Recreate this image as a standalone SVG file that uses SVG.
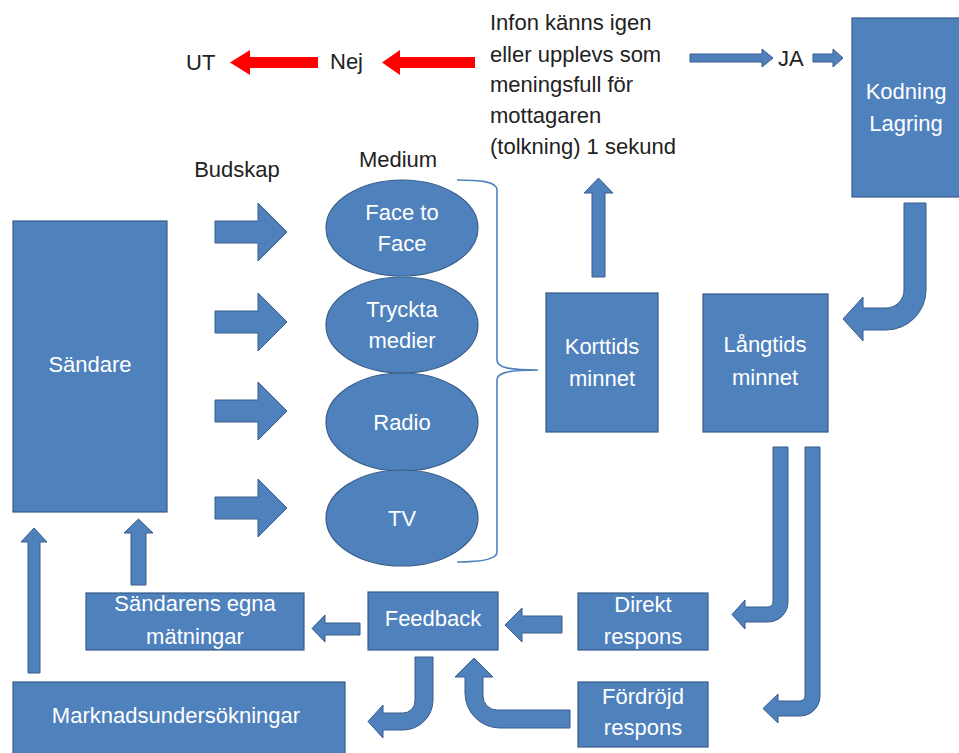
<svg xmlns="http://www.w3.org/2000/svg" width="959" height="753" viewBox="0 0 959 753">
  <style>
    .box { fill: #4F81BD; stroke: #385D8A; stroke-width: 1.2; }
    .arr { fill: #4F81BD; stroke: #385D8A; stroke-width: 1; }
    .red { fill: #FF0000; }
    .brace { fill: none; stroke: #4F81BD; stroke-width: 1.6; }
    text { font-family: "Liberation Sans", Arial, sans-serif; font-size: 22px; }
    .w { fill: #FFFFFF; text-anchor: middle; }
    .k { fill: #222222; }
    .kc { fill: #222222; text-anchor: middle; }
  </style>
  <rect width="959" height="753" fill="#FFFFFF"/>

  <!-- connectors -->
  <g id="connectors">
    <!-- red "no" arrows -->
    <path class="red" d="M475,57 V68 H400 V75 L382,62.5 L400,50 V57 Z"/>
    <path class="red" d="M318,57 V68 H250 V75 L230,62.5 L250,50 V57 Z"/>
    <!-- "yes" arrows -->
    <path class="arr" d="M690,54 H762 V49 L773,58 L762,67 V62 H690 Z"/>
    <path class="arr" d="M813,54 H833 V49 L843,58 L833,67 V62 H813 Z"/>
    <!-- message arrows into media -->
    <path class="arr" d="M215,221 H258 V203 L287,232 L258,261 V243 H215 Z"/>
    <path class="arr" d="M215,311 H258 V293 L287,322 L258,351 V333 H215 Z"/>
    <path class="arr" d="M215,400 H258 V382 L287,411 L258,440 V422 H215 Z"/>
    <path class="arr" d="M215,497 H258 V479 L287,508 L258,537 V519 H215 Z"/>
    <!-- brace grouping the media -->
    <path class="brace" d="M457,180 C478,180 497,181 497,190 V360 C497,367 507,370 538,370 C507,370 497,373 497,380 V552 C497,560 478,562 457,562"/>
    <!-- short-term memory up to interpretation -->
    <path class="arr" d="M592,277 V193 H584 L598.5,178 L613,193 H605 V277 Z"/>
    <!-- coding/storage down to long-term memory -->
    <path class="arr" d="M904,203 H926 V290 A40,40 0 0 1 886,330 H863 V341 L843,319 L863,297 V308 H886 A18,18 0 0 0 904,290 Z"/>
    <!-- long-term memory to direct response -->
    <path class="arr" d="M773,447 H788 V602 A20,20 0 0 1 768,622 H745 V629 L732,614.5 L745,600 V607 H768 A5,5 0 0 0 773,602 Z"/>
    <!-- long-term memory to delayed response -->
    <path class="arr" d="M805,447 H820 V696 A20,20 0 0 1 800,716 H778 V723 L763,708.5 L778,694 V701 H800 A5,5 0 0 0 805,696 Z"/>
    <!-- direct response to feedback -->
    <path class="arr" d="M562,616 V633 H522 V642 L505,625 L522,608 V616 Z"/>
    <!-- delayed response to feedback -->
    <path class="arr" d="M570,710 V728 H500 A35,35 0 0 1 465,693 V677 H455 L474,658 L493,677 H483 V696 A14,14 0 0 0 497,710 Z"/>
    <!-- feedback to own measurements -->
    <path class="arr" d="M360,623 V635 H325 V642 L312,628.5 L325,615 V623 Z"/>
    <!-- feedback to market research -->
    <path class="arr" d="M415,657 H433 V700 A30,30 0 0 1 403,730 H383 V738 L368,721.5 L383,705 V713 H403 A12,12 0 0 0 415,701 Z"/>
    <!-- back up to sender -->
    <path class="arr" d="M28,673 V542 H21 L34,528 L47,542 H40 V673 Z"/>
    <path class="arr" d="M131,585 V533 H124 L138.5,519 L153,533 H146 V585 Z"/>
  </g>

  <!-- labels -->
  <g id="label-ut"><text class="k" x="186" y="70">UT</text></g>
  <g id="label-nej"><text class="k" x="330" y="69">Nej</text></g>
  <g id="label-ja"><text class="k" x="778" y="66">JA</text></g>
  <g id="label-tolkning">
    <text class="k" x="490" y="30">Infon känns igen</text>
    <text class="k" x="490" y="62">eller upplevs som</text>
    <text class="k" x="490" y="92">meningsfull för</text>
    <text class="k" x="490" y="123">mottagaren</text>
    <text class="k" x="490" y="154">(tolkning) 1 sekund</text>
  </g>
  <g id="label-budskap"><text class="kc" x="237" y="177">Budskap</text></g>
  <g id="label-medium"><text class="kc" x="398" y="167">Medium</text></g>

  <!-- nodes -->
  <g id="kodning">
    <rect class="box" x="852" y="18" width="120" height="179"/>
    <text class="w" x="906" y="99">Kodning</text>
    <text class="w" x="906" y="131">Lagring</text>
  </g>
  <g id="sandare">
    <rect class="box" x="13" y="221" width="154" height="291"/>
    <text class="w" x="90" y="372">Sändare</text>
  </g>
  <g id="face-to-face">
    <ellipse class="box" cx="402" cy="228" rx="76" ry="48"/>
    <text class="w" x="402" y="220">Face to</text>
    <text class="w" x="402" y="251">Face</text>
  </g>
  <g id="tryckta-medier">
    <ellipse class="box" cx="402" cy="325" rx="76" ry="48"/>
    <text class="w" x="402" y="317">Tryckta</text>
    <text class="w" x="402" y="348">medier</text>
  </g>
  <g id="radio">
    <ellipse class="box" cx="402" cy="422" rx="76" ry="49"/>
    <text class="w" x="402" y="430">Radio</text>
  </g>
  <g id="tv">
    <ellipse class="box" cx="402" cy="518" rx="76" ry="48"/>
    <text class="w" x="402" y="526">TV</text>
  </g>
  <g id="korttidsminnet">
    <rect class="box" x="546" y="293" width="112" height="139"/>
    <text class="w" x="602" y="354">Korttids</text>
    <text class="w" x="602" y="386">minnet</text>
  </g>
  <g id="langtidsminnet">
    <rect class="box" x="703" y="294" width="125" height="138"/>
    <text class="w" x="765" y="352">Långtids</text>
    <text class="w" x="765" y="385">minnet</text>
  </g>
  <g id="direkt-respons">
    <rect class="box" x="578" y="593" width="130" height="57"/>
    <text class="w" x="643" y="612">Direkt</text>
    <text class="w" x="643" y="644">respons</text>
  </g>
  <g id="fordrojd-respons">
    <rect class="box" x="578" y="682" width="130" height="65"/>
    <text class="w" x="643" y="704">Fördröjd</text>
    <text class="w" x="643" y="735">respons</text>
  </g>
  <g id="feedback">
    <rect class="box" x="368" y="592" width="130" height="58"/>
    <text class="w" x="433" y="626">Feedback</text>
  </g>
  <g id="sandarens-matningar">
    <rect class="box" x="86" y="593" width="218" height="57"/>
    <text class="w" x="195" y="611">Sändarens egna</text>
    <text class="w" x="195" y="644">mätningar</text>
  </g>
  <g id="marknadsundersokningar">
    <rect class="box" x="13" y="682" width="332" height="80"/>
    <text class="w" x="176" y="723">Marknadsundersökningar</text>
  </g>
</svg>
